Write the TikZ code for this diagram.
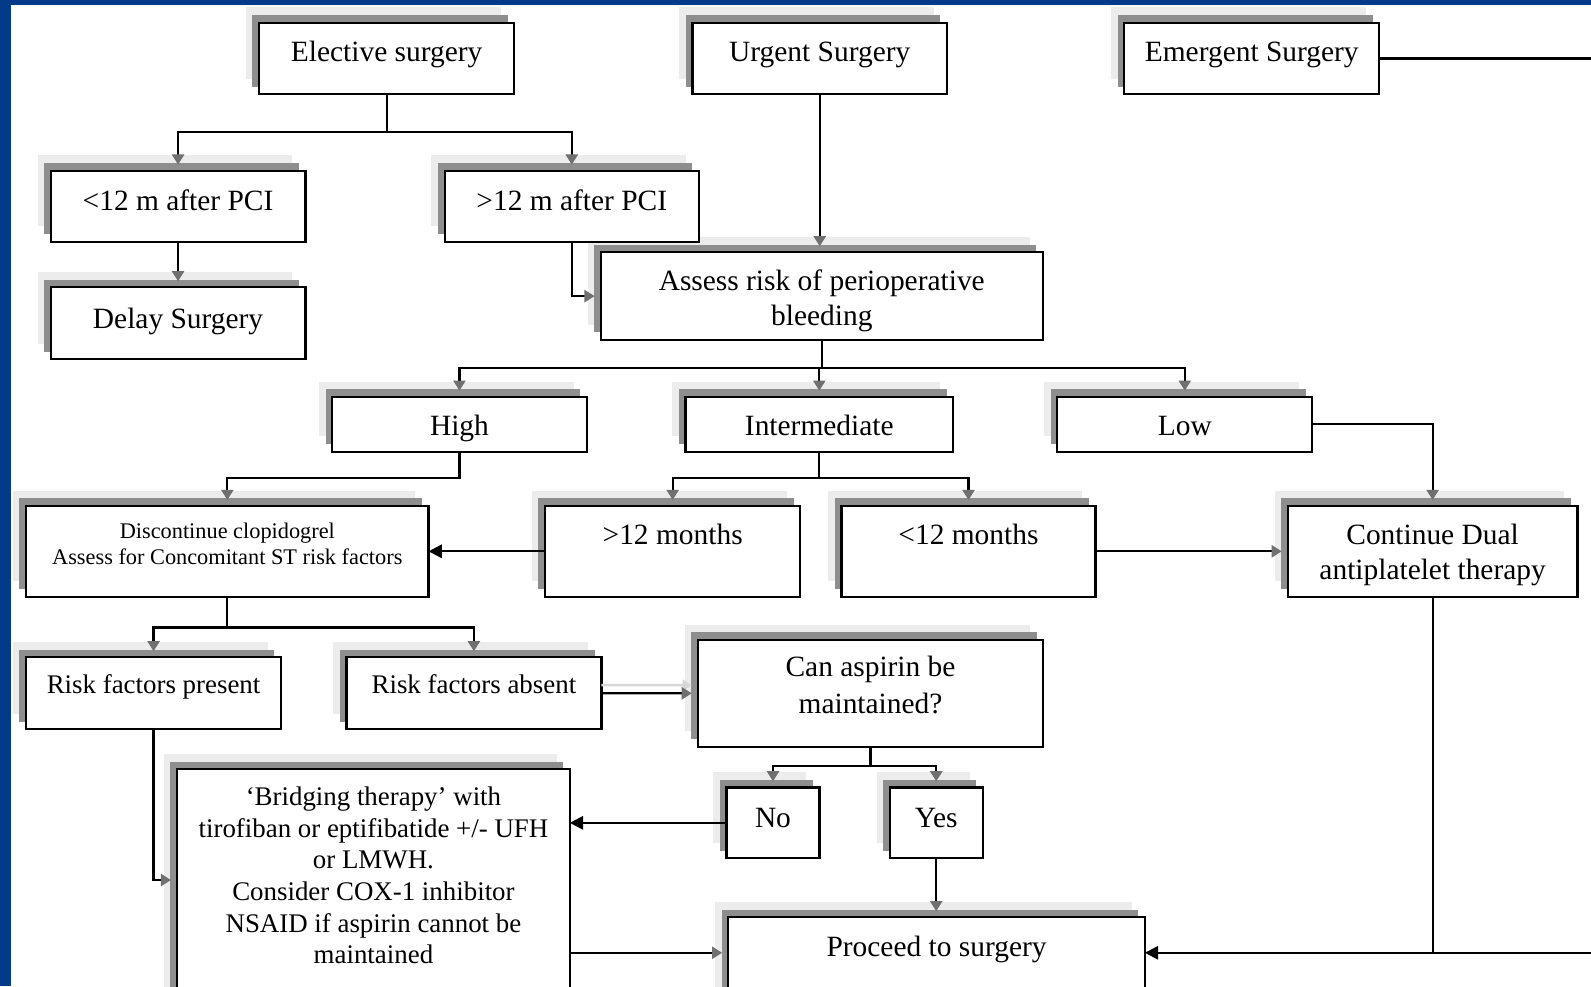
\documentclass[tikz,border=0pt]{standalone}
\usepackage{fontspec}
\setmainfont{Liberation Serif}
\usetikzlibrary{arrows.meta,shadows}
\definecolor{frameblue}{RGB}{3,58,138}
\definecolor{shdark}{RGB}{142,142,142}
\definecolor{shlight}{RGB}{236,236,236}
\definecolor{arrgray}{RGB}{112,112,112}
\definecolor{ghostgray}{RGB}{215,215,215}
\newcommand{\fA}{\fontsize{29}{34.5}\selectfont}
\newcommand{\fB}{\fontsize{26.5}{31.2}\selectfont}
\newcommand{\fC}{\fontsize{22}{26.3}\selectfont}
\newcommand{\mybox}[8]{%
  \node[box] (#1) at ({(#2+#4)/2},{(#3+#5)/2})
  {\parbox[c][\dimexpr#5pt-#3pt\relax][t]{\dimexpr#4pt-#2pt\relax}{#6\centering\rule{0pt}{#7pt}#8\par}};}
\begin{document}
\begin{tikzpicture}[x=1pt,y=-1pt,
  box/.style={draw=black, line width=2.2pt, fill=white, inner sep=0pt, outer sep=0pt,
    general shadow={fill=shlight, shadow xshift=-13pt, shadow yshift=15pt},
    general shadow={fill=shdark, shadow xshift=-6.5pt, shadow yshift=7.5pt}},
  conn/.style={line width=2.2pt, draw=black},
  garr/.style={conn, -{Triangle[length=10pt,width=12pt,color=arrgray]}, shorten >=6pt},
  barr/.style={conn, -{Triangle[length=13pt,width=13pt,color=black]}}]
\fill[white] (0,0) rectangle (1568,972);
\useasboundingbox (0,0) rectangle (1568,972);
\clip (0,0) rectangle (1568,972);

% boxes
\mybox{elec}{255.2}{22.3}{506.9}{93}{\fA}{38.5}{Elective surgery}
\mybox{urg}{682.5}{22.3}{933.3}{93}{\fA}{38.5}{Urgent Surgery}
\mybox{emer}{1108}{22.3}{1359.3}{93}{\fA}{38.5}{Emergent Surgery}
\mybox{assess}{592}{248.7}{1027.8}{335}{\fA}{37.5}{Assess risk of perioperative\\bleeding}
\mybox{lt}{50}{168.2}{301}{238.2}{\fA}{39}{<12 m after PCI}
\mybox{gt}{438.2}{168.2}{688.8}{238.2}{\fA}{39}{>12 m after PCI}
\mybox{delay}{50}{283.2}{301}{354.1}{\fA}{40.5}{Delay Surgery}
\mybox{high}{327.3}{391}{578.3}{445.1}{\fA}{37.8}{High}
\mybox{int}{675.5}{391}{939.4}{445.1}{\fA}{37.8}{Intermediate}
\mybox{low}{1042}{391}{1293.3}{445.1}{\fA}{37.8}{Low}
\mybox{disc}{25.7}{498.7}{422.4}{588}{\fC}{31.8}{Discontinue clopidogrel\\Assess for Concomitant ST risk factors}
\mybox{gtm}{537.1}{498.7}{788.8}{588}{\fA}{38.4}{>12 months}
\mybox{ltm}{829.3}{498.7}{1079.7}{588}{\fA}{38.4}{<12 months}
\mybox{cont}{1269.2}{498.7}{1554.6}{588}{\fontsize{29}{34.8}\selectfont}{37.5}{Continue Dual\\antiplatelet therapy}
\mybox{rfp}{25.7}{647.8}{277}{718.8}{\fB}{35.5}{Risk factors present}
\mybox{rfa}{341.4}{647.8}{592.7}{718.8}{\fB}{35.5}{Risk factors absent}
\mybox{can}{687.8}{630.7}{1028.1}{735.9}{\fontsize{29}{36}\selectfont}{36.2}{Can aspirin be\\maintained?}
\mybox{brid}{174.5}{758.2}{561.6}{1010}{\fB}{35.8}{‘Bridging therapy’ with\\tirofiban or eptifibatide +/- UFH\\or LMWH.\\Consider COX-1 inhibitor\\NSAID if aspirin cannot be\\maintained}
\mybox{no}{716}{776}{807.6}{845.9}{\fA}{39.4}{No}
\mybox{yes}{876.9}{776}{968.5}{845.9}{\fA}{39.4}{Yes}
\mybox{proc}{717.7}{904}{1128.3}{1010}{\fA}{38.7}{Proceed to surgery}

% connectors
\coordinate (j1) at (0,129.8);
\draw[conn] (elec.south) -- (elec.south |- j1);
\draw[garr] (elec.south |- j1) -| (lt.north);
\draw[garr] (elec.south |- j1) -| (gt.north);
\draw[garr] (lt.south) -- (delay.north);
\draw[garr] (gt.south) |- (assess.west);
\draw[garr] (urg.south) -- (urg.south |- assess.north);
\coordinate (j2) at (0,363);
\draw[conn] (assess.south) -- (assess.south |- j2);
\draw[garr] (assess.south |- j2) -| (high.north);
\draw[garr] (assess.south |- j2) -| (int.north);
\draw[garr] (assess.south |- j2) -| (low.north);
\coordinate (j3) at (0,471.4);
\draw[garr] (high.south) -- (high.south |- j3) -| (disc.north);
\draw[conn] (int.south) -- (int.south |- j3);
\draw[garr] (int.south |- j3) -| (gtm.north);
\draw[garr] (int.south |- j3) -| (ltm.north);
\draw[barr] (gtm.west) -- (disc.east);
\draw[garr] (ltm.east) -- (cont.west);
\draw[garr] (low.east) -| (cont.north);
\coordinate (j4) at (0,618.5);
\draw[conn] (disc.south) -- (disc.south |- j4);
\draw[garr] (disc.south |- j4) -| (rfp.north);
\draw[garr] (disc.south |- j4) -| (rfa.north);
\draw[draw=ghostgray, line width=2.5pt, -{Triangle[length=9pt,width=11pt,color=ghostgray]}, shorten >=6pt] ([yshift=8pt]rfa.east) -- ([yshift=8pt]can.west);
\draw[garr] (rfa.east) -- (can.west);
\coordinate (j5) at (0,755);
\draw[conn] (can.south) -- (can.south |- j5);
\draw[garr] (can.south |- j5) -| (no.north);
\draw[garr] (can.south |- j5) -| (yes.north);
\draw[barr] (no.west) -- (no.west -| brid.east);
\coordinate (j6) at (0,867.3);
\draw[garr] (rfp.south) |- (brid.west |- j6);
\coordinate (jp) at (0,939);
\draw[garr] (brid.east |- jp) -- (proc.west |- jp);
\draw[garr] (yes.south) -- (proc.north -| yes.south);
\draw[conn] (cont.south) -- (cont.south |- jp);
\coordinate (e2) at (1568,939);
\draw[barr] (e2) -- (e2 -| proc.east);
\coordinate (e1) at (1568,0);
\draw[conn] (emer.east) -- (emer.east -| e1);

% frame
\fill[frameblue] (0,0) rectangle (1568,5);
\fill[frameblue] (0,0) rectangle (10.5,972);
\end{tikzpicture}
\end{document}
